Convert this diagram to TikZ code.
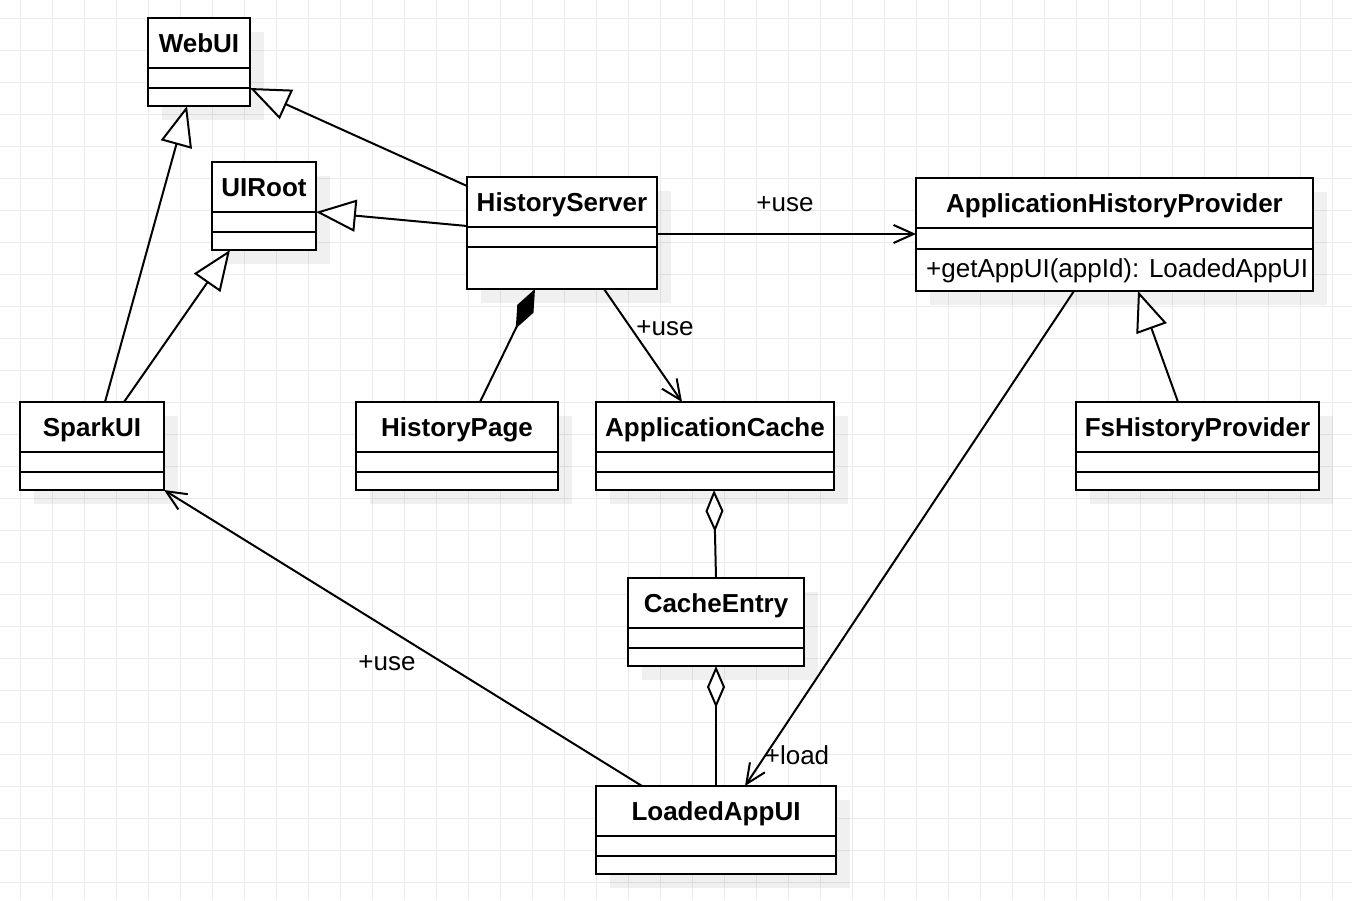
\documentclass[tikz,border=0pt]{standalone}
\usepackage{fontspec}
\setmainfont{Liberation Sans}
\usetikzlibrary{arrows.meta}
\tikzset{
    gridline/.style={draw=black!8,line width=1pt},
    classshadow/.style={fill=black,opacity=0.06},
    classbox/.style={draw,fill=white,line width=2pt,inner sep=0pt,outer sep=0pt},
    classname/.style={font=\fontsize{26}{31}\selectfont\bfseries,inner sep=0pt},
    classline/.style={line width=2pt},
    memberlbl/.style={font=\fontsize{26}{31}\selectfont,inner sep=0pt},
    linklbl/.style={font=\fontsize{26}{31}\selectfont,inner sep=0pt,anchor=base},
    uses/.style={line width=2pt,-{Straight Barb[length=20pt,width=18pt]}},
    extends/.style={line width=2pt,-{Triangle[length=40pt,width=32pt,fill=white]}},
    aggregates/.style={line width=2pt,{Diamond[length=42pt,width=18pt,fill=white]}-},
    composes/.style={line width=2pt,{Diamond[length=44pt,width=18pt]}-},
}
% name, left, top, width, height, second divider, title
\newcommand{\umlclass}[7]{%
    \fill[classshadow] (#2+14,#3+14) rectangle ++(#4,#5);
    \node[classbox,minimum width=#4pt,minimum height=#5pt,anchor=north west] (#1) at (#2,#3) {};
    \node[classname,anchor=base] (#1-name) at ([yshift=-34.5pt]#1.north) {#7};
    \draw[classline] ([yshift=-50pt]#1.north west) -- ([yshift=-50pt]#1.north east);
    \draw[classline] ([yshift=-#6pt]#1.north west) -- ([yshift=-#6pt]#1.north east);
}
\begin{document}
\begin{tikzpicture}[x=1pt,y=-1pt]
            \useasboundingbox (0,0) rectangle (1352,900);
            \foreach \gx in {20,52,...,1340} \draw[gridline] (\gx,0)--(\gx,900);
            \foreach \gy in {18,50,...,890} \draw[gridline] (0,\gy)--(1352,\gy);
            \umlclass{webui}{148}{18}{102}{88}{70}{WebUI}
            \umlclass{uiroot}{212}{162}{104}{88}{70}{UIRoot}
            \umlclass{hs}{467}{177}{190}{112}{70}{HistoryServer}
            \umlclass{ahp}{916}{178}{397}{113}{71}{ApplicationHistoryProvider}
            \umlclass{spark}{20}{402}{144}{88}{70}{SparkUI}
            \umlclass{hp}{356}{402}{202}{88}{70}{HistoryPage}
            \umlclass{ac}{596}{402}{238}{88}{70}{ApplicationCache}
            \umlclass{fs}{1076}{402}{243}{88}{70}{FsHistoryProvider}
            \umlclass{ce}{628}{578}{176}{88}{70}{CacheEntry}
            \umlclass{lau}{596}{786}{240}{88}{70}{LoadedAppUI}
            \node[memberlbl,anchor=base west] (ahp-get) at (926,277) {+getAppUI(appId): LoadedAppUI};
            \draw[extends] ([yshift=-9pt]hs.north west) -- ([yshift=18pt]webui.south east);
            \draw[extends] ([yshift=-49pt]hs.north west) -- ([yshift=-50pt]uiroot.north east);
            \draw[extends] ([xshift=85pt]spark.north west) -- ([xshift=39pt]webui.south west);
            \draw[extends] ([xshift=104pt]spark.north west) -- ([xshift=18pt]uiroot.south west);
            \draw[extends] ([xshift=102pt]fs.north west) -- ([xshift=222pt]ahp.south west);
            \draw[composes] ([xshift=68pt]hs.south west) -- ([xshift=124pt]hp.north west);
            \draw[aggregates] ([xshift=118pt]ac.south west) -- ([xshift=88pt]ce.north west);
            \draw[aggregates] (ce.south) -- ([xshift=120pt]lau.north west);
            \draw[uses] ([xshift=137pt]hs.south west) -- ([xshift=86pt]ac.north west);
            \draw[uses] ([yshift=-57pt]hs.north east) -- ([yshift=-56pt]ahp.north west);
            \draw[uses] ([xshift=158pt]ahp.south west) -- ([xshift=149pt]lau.north west);
            \draw[uses] ([xshift=46pt]lau.north west) -- (spark.south east);
            \node[linklbl] (use-ahp) at (785,211.5) {+use};
            \node[linklbl] (use-ac) at (665,335) {+use};
            \node[linklbl] (use-spark) at (387,670) {+use};
            \node[linklbl] (load-lau) at (797,764) {+load};
        \end{tikzpicture}
\end{document}
